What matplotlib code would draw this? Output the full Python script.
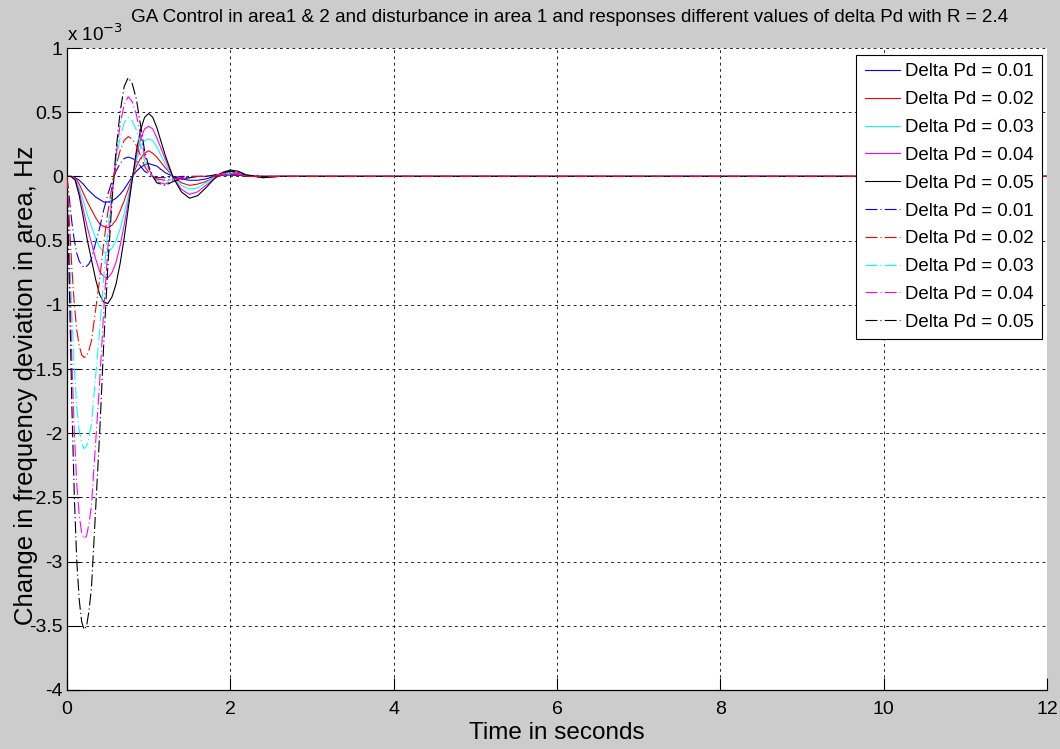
import matplotlib
matplotlib.use('Agg')
import matplotlib.pyplot as plt

plt.rcParams['font.family'] = ['Liberation Sans', 'DejaVu Sans']
plt.rcParams['axes.unicode_minus'] = False
plt.rcParams['lines.scale_dashes'] = False

# values in units of 1e-3 Hz
t_solid = [0, 0.05, 0.1, 0.15, 0.2, 0.25, 0.3, 0.35, 0.4, 0.45, 0.5,
           0.55, 0.6, 0.65, 0.7, 0.75, 0.8, 0.85, 0.9, 0.95, 1.0,
           1.05, 1.1, 1.2, 1.3, 1.4, 1.5, 1.6, 1.7, 1.8, 1.9, 2.0,
           2.1, 2.2, 2.4, 2.6, 12]
t_dash = [0, 0.03, 0.06, 0.09, 0.12, 0.15, 0.18, 0.21, 0.24, 0.27, 0.30,
          0.35, 0.40, 0.45, 0.50, 0.55, 0.60, 0.65, 0.70, 0.75, 0.80,
          0.85, 0.90, 0.95, 1.00, 1.05, 1.10, 1.20, 1.30, 1.40, 1.50,
          1.60, 1.70, 1.80, 1.90, 2.00, 2.10, 2.20, 2.40, 2.60, 12]

solid_001 = [0, 0, -0.01, -0.03, -0.06, -0.1, -0.13, -0.16, -0.18, -0.2, -0.2,
             -0.19, -0.17, -0.14, -0.1, -0.05, 0, 0.04, 0.07, 0.09, 0.1,
             0.09, 0.08, 0.03, 0, -0.02, -0.03, -0.03, -0.02, 0, 0.01, 0.01,
             0.01, 0, 0, 0, 0]
solid_002 = [0, 0, -0.01, -0.06, -0.13, -0.2, -0.26, -0.32, -0.37, -0.39, -0.4,
             -0.38, -0.34, -0.27, -0.19, -0.1, -0.01, 0.08, 0.14, 0.18, 0.2,
             0.18, 0.15, 0.07, 0, -0.05, -0.07, -0.06, -0.04, -0.01, 0.01, 0.02,
             0.02, 0, 0, 0, 0]
solid_003 = [0, 0, -0.02, -0.09, -0.19, -0.3, -0.39, -0.48, -0.55, -0.59, -0.59,
             -0.56, -0.5, -0.41, -0.29, -0.15, -0.01, 0.12, 0.22, 0.28, 0.29,
             0.28, 0.23, 0.1, -0.01, -0.07, -0.1, -0.09, -0.05, -0.01, 0.02, 0.03,
             0.02, 0.01, -0.01, 0, 0]
solid_004 = [0, 0, -0.02, -0.12, -0.26, -0.4, -0.52, -0.64, -0.74, -0.78, -0.79,
             -0.75, -0.67, -0.54, -0.38, -0.2, -0.02, 0.16, 0.29, 0.37, 0.39,
             0.37, 0.3, 0.14, -0.01, -0.1, -0.14, -0.12, -0.07, -0.02, 0.02, 0.04,
             0.03, 0.01, -0.01, 0, 0]
solid_005 = [0, 0, -0.03, -0.15, -0.32, -0.5, -0.65, -0.8, -0.92, -0.98, -0.99,
             -0.94, -0.84, -0.68, -0.48, -0.25, -0.02, 0.2, 0.36, 0.46, 0.49,
             0.46, 0.38, 0.17, -0.01, -0.12, -0.17, -0.15, -0.09, -0.02, 0.03, 0.05,
             0.04, 0.01, -0.01, 0, 0]

dash_001 = [0, -0.18, -0.36, -0.5, -0.6, -0.66, -0.69, -0.71, -0.7, -0.68, -0.64,
            -0.52, -0.4, -0.26, -0.14, -0.04, 0.04, 0.1, 0.14, 0.15, 0.14,
            0.12, 0.08, 0.04, 0.02, 0.0, -0.01, -0.01, -0.01, 0, 0,
            0, 0, 0, 0.01, 0.01, 0.01, 0, 0, 0, 0]
dash_002 = [0, -0.36, -0.72, -1.0, -1.2, -1.32, -1.39, -1.41, -1.4, -1.35, -1.28,
            -1.04, -0.8, -0.52, -0.28, -0.08, 0.08, 0.2, 0.28, 0.31, 0.29,
            0.24, 0.16, 0.08, 0.03, 0.0, -0.02, -0.03, -0.02, -0.01, 0,
            0, 0, 0, 0.01, 0.02, 0.01, 0, 0, 0, 0]
dash_003 = [0, -0.54, -1.08, -1.5, -1.8, -1.98, -2.08, -2.12, -2.1, -2.03, -1.92,
            -1.56, -1.2, -0.78, -0.42, -0.12, 0.12, 0.3, 0.42, 0.46, 0.43,
            0.36, 0.24, 0.12, 0.05, 0.0, -0.03, -0.04, -0.02, -0.01, -0.01,
            0, 0, 0.01, 0.02, 0.02, 0.02, 0.01, 0, 0, 0]
dash_004 = [0, -0.72, -1.44, -2.0, -2.4, -2.64, -2.78, -2.82, -2.8, -2.7, -2.56,
            -2.08, -1.6, -1.04, -0.56, -0.16, 0.16, 0.4, 0.56, 0.62, 0.58,
            0.48, 0.32, 0.16, 0.06, 0.0, -0.04, -0.06, -0.03, -0.02, -0.01,
            0, 0, 0.01, 0.02, 0.03, 0.02, 0.01, 0, 0, 0]
dash_005 = [0, -0.9, -1.8, -2.5, -3.0, -3.3, -3.47, -3.53, -3.5, -3.38, -3.2,
            -2.6, -2.0, -1.3, -0.7, -0.2, 0.2, 0.5, 0.7, 0.77, 0.72,
            0.6, 0.4, 0.2, 0.08, 0.0, -0.05, -0.07, -0.04, -0.02, -0.01,
            0, 0, 0.01, 0.03, 0.04, 0.03, 0.01, 0, 0, 0]

labels = ['Delta Pd = 0.01', 'Delta Pd = 0.02', 'Delta Pd = 0.03',
          'Delta Pd = 0.04', 'Delta Pd = 0.05']
colors = ['#0000ff', '#ff0000', '#00ffff', '#ff00ff', '#000000']
solid_series = [solid_001, solid_002, solid_003, solid_004, solid_005]
dash_series = [dash_001, dash_002, dash_003, dash_004, dash_005]

x_ticks = [0, 2, 4, 6, 8, 10, 12]
y_ticks = [1, 0.5, 0, -0.5, -1, -1.5, -2, -2.5, -3, -3.5, -4]
y_ticklabels = ['1', '0.5', '0', '-0.5', '-1', '-1.5', '-2', '-2.5', '-3', '-3.5', '-4']

fig = plt.figure(figsize=(10.6, 7.49), dpi=100, facecolor='#cccccc')
ax = fig.add_axes([67/1060, 1-690/749, 980/1060, 642/749])
ax.set_facecolor('white')

dashdot = (0, (8.6, 2.2, 0.8, 2.2))
for y, c, lab in zip(solid_series, colors, labels):
    ax.plot(t_solid, y, '-', color=c, lw=0.8, label=lab)
for y, c, lab in zip(dash_series, colors, labels):
    z = 3 if c == '#ff0000' else 2
    ax.plot(t_dash, y, linestyle=dashdot, color=c, lw=0.8, label=lab, zorder=z)

ax.set_xlim(0, 12)
ax.set_ylim(-4, 1)
ax.set_xticks(x_ticks)
ax.set_xticklabels([str(v) for v in x_ticks])
ax.set_yticks(y_ticks)
ax.set_yticklabels(y_ticklabels)
ax.tick_params(direction='in', length=9, width=0.8, labelsize=14, colors='black')
ax.tick_params(axis='y', pad=3)
ax.tick_params(axis='x', pad=8)
ax.grid(True, color='black', linestyle=(0, (2, 2.5)), linewidth=0.6)
ax.spines['top'].set_visible(False)
ax.spines['right'].set_visible(False)
for s in ['left', 'bottom']:
    ax.spines[s].set_linewidth(0.9)

ax.set_xlabel('Time in seconds', fontsize=17.5, va='center')
ax.xaxis.set_label_coords(0.5, -(733-690)/642)
ax.set_ylabel('Change in frequency deviation in area, Hz', fontsize=18.5, va='center')
ax.yaxis.set_label_coords((26-67)/980, 1-(385-48)/642)

fig.text(570/1060, 1-18/749, 'GA Control in area1 & 2 and disturbance in area 1 and responses different values of delta Pd with R = 2.4',
         ha='center', va='center', fontsize=13.6)
fig.text(67/1060, 1-41/749, 'x 10$^{-3}$', ha='left', va='baseline', fontsize=13.5)

leg = ax.legend(loc='upper right', bbox_to_anchor=(1-5/980, 1-7/642), borderaxespad=0,
                fontsize=13.4, fancybox=False, framealpha=1, edgecolor='black',
                handlelength=1.88, handletextpad=0.27, labelspacing=0.58, borderpad=0.45)
leg.get_frame().set_linewidth(0.8)

fig.savefig('out.png', dpi=100, facecolor=fig.get_facecolor())
